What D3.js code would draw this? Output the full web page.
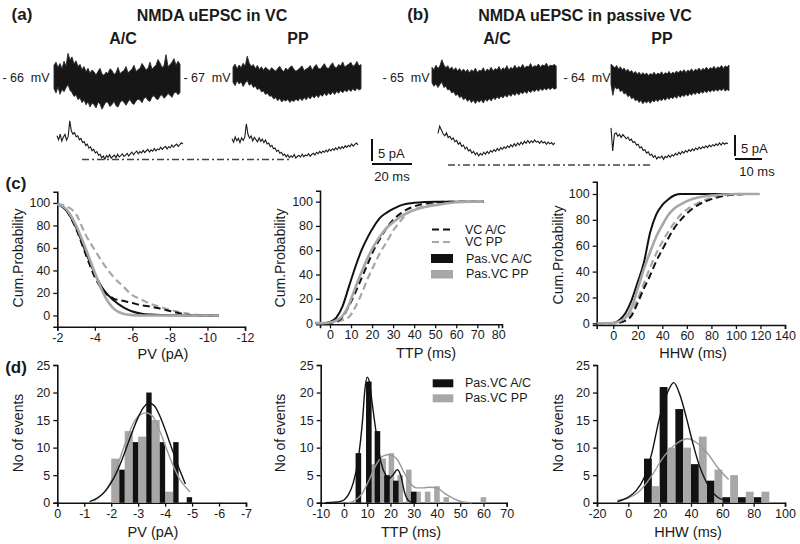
<!DOCTYPE html>
<html><head><meta charset="utf-8">
<script src="https://cdn.jsdelivr.net/npm/d3@7"></script>
<style>
body{margin:0;background:#fff;}
svg{font-family:"Liberation Sans",Arial,Helvetica,sans-serif;}
</style></head><body>
<script>
// ---------------- DATA ----------------
// (a)/(b) traces, current in pA relative to holding level
const aACUpper=[2.9,3.6,2.4,3.3,2.1,3.8,2.7,5.6,4.1,4.8,3.2,3.9,2.6,3.1,1.9,2.6,1.4,2.2,1.1,1.8,1.4,0.7,1.5,2.2,0.9,0.6,1.3,1.0,2.1,1.7,0.8,1.2,2.4,1.0,1.4,1.7,2.6,1.2,1.6,2.0,2.9,1.5,1.9,2.2,3.3,2.6,1.8,2.2,3.6,2.0,2.5,2.9,4.2,3.4,2.4,2.8,5.3,2.6,3.0,3.6,4.4,2.9,3.8,3.1];
const aACLower=[-2.4,-3.4,-2.0,-3.7,-2.6,-3.1,-2.2,-1.5,-2.8,-3.3,-4.2,-3.8,-4.9,-4.5,-5.6,-5.0,-6.1,-5.4,-6.6,-5.7,-6.0,-6.8,-5.5,-5.9,-7.1,-6.2,-5.4,-5.6,-6.5,-6.0,-5.3,-6.3,-6.6,-5.6,-5.1,-5.5,-6.2,-5.4,-4.9,-5.7,-6.0,-5.2,-4.8,-5.0,-5.6,-4.6,-4.4,-5.1,-5.3,-4.3,-4.0,-4.7,-4.9,-4.1,-3.8,-4.6,-4.2,-3.5,-3.9,-4.4,-3.4,-3.2,-3.8,-3.3];
const aPPUpper=[2.0,2.7,1.6,2.5,1.9,2.9,2.2,4.5,2.9,2.2,2.6,1.7,2.4,1.5,2.1,1.3,2.0,1.6,1.2,1.9,1.5,1.1,1.7,2.2,1.4,1.0,1.8,1.3,2.0,2.3,1.5,1.1,1.4,1.9,2.3,1.2,1.6,1.8,2.4,1.3,2.1,2.6,1.7,1.6,2.2,2.8,1.9,1.7,2.4,3.0,2.0,1.9,2.6,2.3,3.2,2.0,2.4,2.7,3.1,2.2,2.5,3.3,2.3,2.6];
const aPPLower=[-1.4,-2.2,-1.1,-1.8,-1.3,-2.4,-1.6,-1.0,-2.1,-1.7,-2.6,-2.3,-3.1,-2.8,-3.6,-3.4,-4.2,-3.9,-4.6,-4.5,-5.2,-4.9,-5.6,-5.1,-5.9,-5.4,-5.7,-5.3,-6.0,-5.5,-5.8,-5.2,-5.7,-5.0,-5.6,-4.9,-5.4,-4.7,-5.2,-4.5,-5.0,-4.3,-4.9,-4.2,-4.6,-3.9,-4.5,-3.8,-4.3,-3.6,-4.2,-3.5,-3.9,-3.3,-3.8,-3.2,-3.6,-3.0,-3.5,-2.9,-3.4,-2.8,-3.2,-2.9];
const aACAvg=[0.5,-0.4,0.9,-0.7,0.2,0.8,-0.5,0.3,3.9,1.6,0.9,1.2,0.3,0.5,-0.4,-0.1,-1.0,-0.8,-1.7,-1.4,-2.3,-2.0,-2.9,-2.6,-3.4,-3.1,-3.9,-3.7,-4.5,-4.1,-4.8,-4.0,-4.4,-3.8,-4.6,-4.2,-3.9,-4.5,-3.7,-4.3,-4.0,-3.6,-4.2,-3.9,-3.5,-4.1,-3.6,-3.2,-3.8,-3.3,-3.0,-3.6,-3.1,-3.4,-2.8,-3.3,-2.9,-2.6,-3.2,-2.7,-3.0,-2.4,-2.9,-2.5,-2.7,-2.1,-2.6,-2.2,-1.9,-2.5,-2.0,-2.2,-1.6,-2.1,-1.7,-1.4,-1.9,-1.5,-1.1,-1.4];
const aPPAvg=[0.3,-0.5,0.7,-0.2,0.4,-0.6,0.5,-0.1,0.6,3.7,1.3,0.4,0.9,-0.2,0.6,0.1,-0.4,0.5,-0.3,0.2,-0.6,0.0,-0.9,-0.7,-1.5,-1.2,-2.0,-1.8,-2.6,-2.3,-3.0,-2.8,-3.5,-3.2,-3.8,-3.4,-4.0,-3.6,-3.9,-3.3,-4.1,-3.7,-3.5,-3.9,-3.2,-3.8,-3.4,-3.6,-3.1,-3.7,-3.3,-3.0,-3.4,-2.8,-3.1,-2.6,-3.0,-2.5,-2.8,-2.3,-2.7,-2.1,-2.5,-2.0,-2.3,-1.8,-2.2,-1.6,-2.0,-1.5,-1.9,-1.3,-1.7,-1.2,-1.5,-0.9,-1.4,-1.0,-0.7,-1.1];
const bACUpper=[2.3,1.7,2.8,2.0,2.6,4.1,2.9,2.2,2.7,1.8,2.4,1.6,2.2,1.4,2.0,1.3,1.9,1.2,1.8,1.0,1.7,1.3,2.1,1.1,1.6,1.4,2.2,1.2,1.9,1.5,2.3,1.4,2.0,1.7,2.5,1.5,2.2,1.8,2.7,1.6,2.3,1.9,2.8,2.0,2.5,2.2,3.0,2.1,2.6,2.4,3.2,2.2,2.7,2.5,3.1,2.3,2.9,2.6,3.3,2.4,2.8,2.7,3.0,2.6];
const bACLower=[-1.4,-2.2,-1.6,-2.5,-1.8,-1.2,-2.5,-2.2,-3.1,-2.9,-3.8,-3.5,-4.4,-4.1,-4.9,-4.6,-5.4,-5.0,-5.8,-5.3,-6.1,-5.5,-6.3,-5.6,-6.0,-5.4,-6.2,-5.3,-5.8,-5.1,-5.7,-4.9,-5.4,-4.7,-5.2,-4.5,-5.0,-4.3,-4.8,-4.1,-4.6,-3.9,-4.4,-3.7,-4.3,-3.6,-4.0,-3.4,-3.9,-3.2,-3.7,-3.1,-3.5,-2.9,-3.4,-2.8,-3.2,-2.7,-3.1,-2.6,-3.0,-2.5,-2.9,-2.7];
const bPPUpper=[2.8,2.4,1.9,2.5,1.6,2.2,1.4,1.9,1.1,1.6,0.9,1.3,0.6,1.1,0.4,0.9,0.2,0.8,0.3,0.7,0.1,0.6,0.3,0.9,0.2,0.7,0.4,1.0,0.3,0.8,0.5,1.1,0.4,0.9,0.6,1.2,0.7,1.3,0.9,1.5,0.8,1.4,1.1,1.7,1.0,1.6,1.3,1.9,1.2,1.8,1.5,2.1,1.4,2.0,1.7,2.3,1.6,2.2,1.9,2.5,1.8,2.4,2.1,2.6];
const bPPLower=[-2.0,-4.6,-2.5,-3.1,-2.8,-3.7,-3.4,-4.3,-4.0,-4.9,-4.6,-5.4,-5.1,-5.9,-5.6,-6.3,-5.8,-6.6,-6.0,-6.4,-5.9,-6.5,-5.8,-6.2,-5.6,-6.1,-5.5,-5.9,-5.3,-5.8,-5.1,-5.6,-5.0,-5.4,-4.8,-5.3,-4.6,-5.1,-4.5,-4.9,-4.3,-4.8,-4.1,-4.6,-4.0,-4.4,-3.8,-4.3,-3.7,-4.1,-3.5,-4.0,-3.4,-3.8,-3.3,-3.7,-3.2,-3.6,-3.1,-3.5,-3.0,-3.6,-3.2,-3.5];
const bACAvg=[0.4,2.1,1.2,0.3,-0.2,0.5,-0.6,-0.3,-1.1,-0.7,-1.6,-1.3,-2.2,-1.8,-2.7,-2.4,-3.3,-2.9,-3.8,-3.5,-4.3,-3.9,-4.7,-4.2,-5.0,-4.4,-4.8,-4.1,-4.6,-3.9,-4.4,-3.7,-4.1,-3.5,-3.9,-3.2,-3.7,-3.0,-3.4,-2.8,-3.2,-2.6,-3.0,-2.3,-2.8,-2.1,-2.6,-1.9,-2.4,-1.7,-2.2,-1.5,-2.0,-1.3,-1.9,-1.4,-1.8,-1.2,-1.7,-1.5,-2.0,-1.4,-1.9,-1.6,-2.2,-1.7,-2.1,-1.8,-2.3,-1.9];
const bPPAvg=[1.7,-3.8,0.2,0.5,-0.3,0.2,-0.6,0.1,-0.4,-0.9,-0.5,-1.3,-1.0,-1.8,-1.6,-2.4,-2.2,-3.1,-2.8,-3.7,-3.5,-4.3,-4.0,-4.8,-4.6,-5.3,-4.9,-5.7,-5.2,-5.5,-5.0,-5.8,-5.1,-5.4,-4.8,-5.3,-4.7,-5.0,-4.4,-4.8,-4.1,-4.6,-3.9,-4.3,-3.7,-4.1,-3.5,-3.9,-3.3,-3.7,-3.1,-3.5,-2.9,-3.3,-2.8,-3.1,-2.6,-3.0,-2.4,-2.8,-2.3,-2.6,-2.1,-2.5,-1.9,-2.4,-1.8,-2.2,-1.9,-2.1];

// (c) cumulative probability (%)
const pvX=[-2,-2.5,-3,-3.5,-4,-4.5,-5,-5.5,-6,-6.5,-7,-7.5,-8,-8.5,-9,-9.5,-10,-10.6];
const pvVCAC=[99,93,77,55,34,21,15,13,11,9,7.8,6,4,2,0.5,0.1,0,0];
const pvVCPP=[99,97,90,72,58,45,34,26,18,14,10,7.5,5,3,1.5,0.4,0,0];
const pvPasAC=[99,93,78,57,37,22,13.5,7.4,3.5,1.6,0.8,0.4,0.2,0.1,0,0,0,0];
const pvPasPP=[99,94,80,60,38,18,6,1.5,0.3,0,0,0,0,0,0,0,0,0];
const ttpX=[-7,-4,0,3,6,9,12,15,18,21,24,27,30,33,36,40,45,50,55,60,66,73];
const ttpVCAC=[0,0,0.3,1.2,5,14,25,37,49,61,70,78.5,85,89.5,93,96,98.3,99.4,100,100,100,100];
const ttpVCPP=[0,0,0.2,0.8,2.5,5,13,24,37,48,58.5,67,76,83,89,93.5,96.5,98.3,99.2,99.7,100,100];
const ttpPasAC=[0,0,1,4.5,14,30,46,60,71,80,87,91,94,96.5,98,99,99.7,100,100,100,100,100];
const ttpPasPP=[0,0,0.5,2,6,15,29,42,54,64,72,78.5,83,87,90,93,95.5,97,98.5,99.5,100,100];
const hhwX=[-13,0,5,10,15,20,25,30,35,40,45,50,55,60,70,80,90,100,110,119];
const hhwVCAC=[0,0,0.5,2,6,16,27,37,48,57,66,74,80,85,92,96,98.5,99.5,100,100];
const hhwVCPP=[0,0,0.7,2.5,8,19,31,43,54,63,71,78,84,88,93.5,97,99,99.7,100,100];
const hhwPasAC=[0,0.3,2.5,8,18,32,47,70,84,91.5,96,99,100,100,100,100,100,100,100,100];
const hhwPasPP=[0,0.3,1.5,4.5,12,27,42,55,67,76,84,89,92,94.5,97.5,98.8,99.5,100,100,100];

// (d) histograms (number of events)
const pvBins=[-2,-2.5,-3,-3.5,-4,-4.5];
const pvHistAC=[6,11,20,11,11,1];
const pvHistPP=[8,13,12,15,2,0];
const pvFitACX=[-1.2,-1.5,-1.8,-2.1,-2.4,-2.7,-3.0,-3.2,-3.4,-3.6,-3.8,-4.0,-4.2,-4.4,-4.6,-4.75];
const pvFitACY=[0.2,0.9,2.2,4.5,7.8,11.8,15.5,17.3,18.1,17.6,15.8,13.3,10.5,7.8,5.2,3.4];
const pvFitPPX=[-1.35,-1.6,-1.9,-2.2,-2.5,-2.8,-3.05,-3.3,-3.55,-3.8,-4.05,-4.3,-4.55,-4.75,-4.92];
const pvFitPPY=[0.3,1.2,3.0,6.3,10.5,14.2,15.9,16.3,15.6,13.0,9.8,6.7,4.2,2.9,2.0];
const ttpBinsAC=[6.2,10.7,14.4,18.5,22.3,30];
const ttpHistAC=[9,22,13,5,4,2];
const ttpBinsPP=[12.4,16.9,20.4,24.2,27.9,31.9,36,40,44,60];
const ttpHistPP=[7,8,9,5,6,2,2,3,1,1];
const ttpFitACX=[-8,-4,-2,0,2,4,6,8,9,10,11,12,14,16,18,19.5,21,23,24.5,26,27.5,29,31];
const ttpFitACY=[0,0.1,0.2,0.5,1.5,3.6,7.5,15,20.5,22.8,21.8,18.5,12.3,7.2,5,4.4,5,6,4.8,2,0.5,0.1,0];
const ttpFitPPX=[2,5,8,11,14,17,19,21,23,25,27,29,31,34,37,40,43,46,49,52,55];
const ttpFitPPY=[0,0.5,1.8,4.3,7,8.5,8.7,8.5,7.8,6.2,4.6,3.3,2.7,2.7,2.8,2.7,1.8,1,0.4,0.1,0];
const hhwBins=[10,20,30,40,50,60,70,80];
const hhwHistAC=[8,21,17,7,4,1,1,1];
const hhwHistPP=[3,10,10,12,6,5,2,2];
const hhwFitACX=[-7,0,5,10,15,20,25,29,33,37,41,45,49,53,57,61];
const hhwFitACY=[0.2,1,2.2,4.5,9,15.5,20,21.8,19.5,15.5,11,7,4.2,2.2,1,0.5];
const hhwFitPPX=[-7,0,6,14,23,31,38,44,51,57,64];
const hhwFitPPY=[0.4,0.9,1.8,4.5,8.5,10.8,11.6,10.8,8.8,6.4,4.2];

// ---------------- DRAWING ----------------
const BLACK="#111", GREY="#a7a7a7", TXT="#1a1a1a";
const svg=d3.select("body").append("svg").attr("width",800).attr("height",544);

function text(x,y,s,size,opt){
  opt=opt||{};
  const t=svg.append("text").attr("x",x).attr("y",y).text(s)
    .attr("font-size",size).attr("fill",TXT)
    .attr("text-anchor",opt.anchor||"middle")
    .attr("dominant-baseline","central")
    .style("white-space","pre");
  if(opt.bold) t.attr("font-weight","bold");
  if(opt.rot) t.attr("transform",`rotate(-90,${x},${y})`);
  return t;
}

// panel titles
text(22,14,"(a)",17,{bold:true});
text(212,15,"NMDA uEPSC in VC",16,{bold:true});
text(123,38,"A/C",16,{bold:true});
text(298,38,"PP",16,{bold:true});
text(418,14,"(b)",17,{bold:true});
text(585,15,"NMDA uEPSC in passive VC",16,{bold:true});
text(497,38,"A/C",16,{bold:true});
text(662,38,"PP",16,{bold:true});
text(26,78,"- 66  mV",12.5);
text(207,78,"- 67  mV",12.5);
text(406,78,"- 65  mV",12.5);
text(587,78,"- 64  mV",12.5);

function traceScales(x0,baseY,dur,pxMs,pxPA){
  return {
    t:d3.scaleLinear().domain([0,dur]).range([x0,x0+dur*pxMs]),
    y:d3.scaleLinear().domain([0,1]).range([baseY,baseY-pxPA])
  };
}
function band(x0,baseY,dur,pxMs,pxPA,up,lo){
  const s=traceScales(x0,baseY,dur,pxMs,pxPA);
  const dt=dur/(up.length-1);
  const area=d3.area().x((d,i)=>s.t(i*dt)).y0((d,i)=>s.y(lo[i])).y1((d,i)=>s.y(up[i]));
  svg.append("path").datum(up).attr("d",area).attr("fill","#161616")
    .attr("stroke","#2a2a2a").attr("stroke-width",0.9);
  return s;
}
function avg(x0,baseY,dur,pxMs,pxPA,vals){
  const s=traceScales(x0,baseY,dur,pxMs,pxPA);
  const dt=dur/(vals.length-1);
  const line=d3.line().x((d,i)=>s.t(i*dt)).y(d=>s.y(d));
  svg.append("path").datum(vals).attr("d",line).attr("fill","none")
    .attr("stroke","#1a1a1a").attr("stroke-width",1.1);
  return s;
}
// (a)
band(54,78,63,2,4.4,aACUpper,aACLower);
band(233,76,64,2,4.4,aPPUpper,aPPLower);
const sa=avg(57,138,63,2,4.4,aACAvg);
avg(232,140,63,2,4.4,aPPAvg);
svg.append("line").attr("x1",82).attr("x2",290).attr("y1",159.5).attr("y2",159.5)
  .attr("stroke","#444").attr("stroke-width",1.5).attr("stroke-dasharray","7,3,2,3");
// (b)
band(432,77,46,2.7,4.2,bACUpper,bACLower);
band(611,76,43.7,2.7,4.2,bPPUpper,bPPLower);
const sb=avg(438,135,43.3,2.7,4.2,bACAvg);
avg(611,135,43.3,2.7,4.2,bPPAvg);
svg.append("line").attr("x1",448).attr("x2",652).attr("y1",165).attr("y2",165)
  .attr("stroke","#444").attr("stroke-width",1.5).attr("stroke-dasharray","7,3,2,3");

// scale bars
function scaleBar(x,yTop,s,pa,ms,lblPA,lblMs,msX){
  const h=s.y(0)-s.y(pa), w=s.t(ms)-s.t(0);
  svg.append("line").attr("x1",x).attr("x2",x).attr("y1",yTop).attr("y2",yTop+h)
    .attr("stroke",BLACK).attr("stroke-width",2);
  svg.append("line").attr("x1",x).attr("x2",x+w).attr("y1",yTop+h+3).attr("y2",yTop+h+3)
    .attr("stroke",BLACK).attr("stroke-width",2);
  text(x+6,yTop+h-8,lblPA,13,{anchor:"start"});
  text(msX,yTop+h+15,lblMs,13);
}
scaleBar(372,139,sa,5,20,"5 pA","20 ms",392);
scaleBar(735,135,sb,5,10,"5 pA","10 ms",757);

// generic axes
function axes(o){
  const x=d3.scaleLinear().domain(o.xd).range(o.xr);
  const y=d3.scaleLinear().domain(o.yd).range(o.yr);
  const g=svg.append("g");
  const fmt=d=>String(d);
  const xa=g.append("g").attr("transform",`translate(0,${o.yr[0]})`)
    .call(d3.axisBottom(x).tickValues(o.xt).tickFormat(fmt).tickSizeOuter(0).tickSize(4).tickPadding(2));
  const ya=g.append("g").attr("transform",`translate(${o.xr[0]},0)`)
    .call(d3.axisLeft(y).tickValues(o.yt).tickFormat(fmt).tickSizeOuter(0).tickSize(4).tickPadding(3));
  [xa,ya].forEach(a=>{
    a.select(".domain").attr("stroke",BLACK).attr("stroke-width",1.6);
    a.selectAll(".tick line").attr("stroke",BLACK).attr("stroke-width",1.3);
    a.selectAll(".tick text").attr("font-size",12.5).attr("fill",TXT)
      .attr("font-family","Liberation Sans, Arial, sans-serif");
  });
  text(o.xlx,o.xly,o.xl,14.5);
  text(o.ylx,o.yly,o.yl,14,{rot:true});
  return {x,y,g};
}
function curve(p,xs,ys,color,width,dash){
  const line=d3.line().x((d,i)=>p.x(xs[i])).y(d=>p.y(d)).curve(d3.curveMonotoneX);
  const path=svg.append("path").datum(ys).attr("d",line).attr("fill","none")
    .attr("stroke",color).attr("stroke-width",width);
  if(dash) path.attr("stroke-dasharray",dash);
}

// (c)
text(16,183,"(c)",17,{bold:true});
const cumTicks=[0,20,40,60,80,100];
const c1=axes({xd:[-2,-12],xr:[57.3,245],yd:[-10,110],yr:[326.7,191.7],
  xt:[-2,-4,-6,-8,-10,-12],yt:cumTicks,xl:"PV (pA)",xlx:163,xly:354,yl:"Cum.Probability",ylx:18,yly:258});
curve(c1,pvX,pvVCPP,GREY,2.2,"7,4");
curve(c1,pvX,pvVCAC,BLACK,2,"7,4");
curve(c1,pvX,pvPasAC,BLACK,2);
curve(c1,pvX,pvPasPP,GREY,2.6);

const c2=axes({xd:[-4.75,81.75],xr:[320,502],yd:[-1,109],yr:[324.3,190.7],
  xt:[0,10,20,30,40,50,60,70,80],yt:cumTicks,xl:"TTP (ms)",xlx:426,xly:353,yl:"Cum.Probability",ylx:280,yly:258});
curve(c2,ttpX,ttpVCPP,GREY,2.2,"7,4");
curve(c2,ttpX,ttpVCAC,BLACK,2,"7,4");
curve(c2,ttpX,ttpPasAC,BLACK,2);
curve(c2,ttpX,ttpPasPP,GREY,2.6);

const c3=axes({xd:[-13.5,140],xr:[596.7,785],yd:[-1.3,109.5],yr:[325,181.7],
  xt:[0,20,40,60,80,100,120,140],yt:cumTicks,xl:"HHW (ms)",xlx:693,xly:353,yl:"Cum.Probability",ylx:558,yly:255});
curve(c3,hhwX,hhwVCPP,GREY,2.2,"7,4");
curve(c3,hhwX,hhwVCAC,BLACK,2,"7,4");
curve(c3,hhwX,hhwPasAC,BLACK,2);
curve(c3,hhwX,hhwPasPP,GREY,2.6);

// legend (c)
svg.append("line").attr("x1",432).attr("x2",450).attr("y1",229.5).attr("y2",229.5)
  .attr("stroke",BLACK).attr("stroke-width",2.2).attr("stroke-dasharray","7,4");
svg.append("line").attr("x1",432).attr("x2",450).attr("y1",242).attr("y2",242)
  .attr("stroke",GREY).attr("stroke-width",2.2).attr("stroke-dasharray","7,4");
svg.append("rect").attr("x",431).attr("y",254).attr("width",22).attr("height",9).attr("fill",BLACK);
svg.append("rect").attr("x",431).attr("y",270).attr("width",22).attr("height",8.5).attr("fill",GREY);
text(465,229.5,"VC A/C",12.5,{anchor:"start"});
text(465,242,"VC PP",12.5,{anchor:"start"});
text(466,258.5,"Pas.VC A/C",12.5,{anchor:"start"});
text(466,274,"Pas.VC PP",12.5,{anchor:"start"});

// (d)
text(16,367,"(d)",17,{bold:true});
const cntTicks=[0,5,10,15,20,25];
const d1=axes({xd:[0,-7],xr:[57.3,246],yd:[0,25],yr:[502.7,365],
  xt:[0,-1,-2,-3,-4,-5,-6,-7],yt:cntTicks,xl:"PV (pA)",xlx:153,xly:532,yl:"No of events",ylx:18,yly:433});
function bars(p,xs,counts,offA,offB,color){
  svg.append("g").selectAll("rect").data(counts).join("rect")
    .attr("x",(d,i)=>Math.min(p.x(xs[i]+offA),p.x(xs[i]+offB)))
    .attr("width",(d,i)=>Math.abs(p.x(xs[i]+offB)-p.x(xs[i]+offA)))
    .attr("y",d=>p.y(d)).attr("height",d=>p.y(0)-p.y(d)).attr("fill",color);
}
bars(d1,pvBins,pvHistPP,0,-0.3,GREY);
bars(d1,pvBins,pvHistAC,-0.3,-0.5,BLACK);
curve(d1,pvFitPPX,pvFitPPY,"#9a9a9a",1.4);
curve(d1,pvFitACX,pvFitACY,BLACK,1.4);

const d2=axes({xd:[-10,70],xr:[320.7,506.7],yd:[0,25],yr:[502.7,365],
  xt:[-10,0,10,20,30,40,50,60,70],yt:cntTicks,xl:"TTP (ms)",xlx:411,xly:532,yl:"No of events",ylx:280,yly:433});
bars(d2,ttpBinsPP,ttpHistPP,-1.2,1.2,GREY);
bars(d2,ttpBinsAC,ttpHistAC,-1.2,1.2,BLACK);
curve(d2,ttpFitPPX,ttpFitPPY,"#9a9a9a",1.4);
curve(d2,ttpFitACX,ttpFitACY,BLACK,1.4);

const d3p=axes({xd:[-20,100],xr:[597,785],yd:[0,25],yr:[502.7,365],
  xt:[-20,0,20,40,60,80,100],yt:cntTicks,xl:"HHW (ms)",xlx:688,xly:532,yl:"No of events",ylx:558,yly:433});
bars(d3p,hhwBins,hhwHistAC,0,5,BLACK);
bars(d3p,hhwBins,hhwHistPP,5,10,GREY);
curve(d3p,hhwFitPPX,hhwFitPPY,"#9a9a9a",1.4);
curve(d3p,hhwFitACX,hhwFitACY,BLACK,1.4);

// legend (d)
svg.append("rect").attr("x",432.7).attr("y",379.3).attr("width",20.6).attr("height",8).attr("fill",BLACK);
svg.append("rect").attr("x",432.7).attr("y",394.3).attr("width",20.6).attr("height",8).attr("fill",GREY);
text(465,383.3,"Pas.VC A/C",12.5,{anchor:"start"});
text(465,398.3,"Pas.VC PP",12.5,{anchor:"start"});
</script></body></html>
